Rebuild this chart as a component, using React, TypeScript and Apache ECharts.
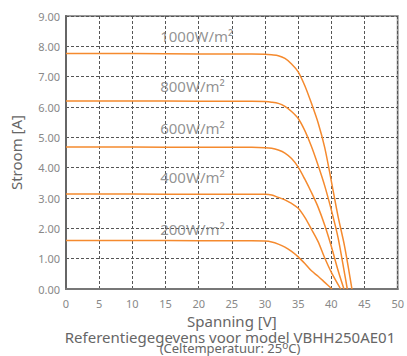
import React, { useEffect, useRef } from "react";
import * as echarts from "echarts";

const irradianceLabels = ["1000W/m²", "800W/m²", "600W/m²", "400W/m²", "200W/m²"];
const labelVoltage = 14.2;
const labelCurrent = [8.33, 6.68, 5.3, 3.69, 1.98];

const curve1000V = [0, 10, 20, 28, 30, 31, 32, 33, 34, 35, 36, 37, 38, 39, 40, 41, 42, 43.1];
const curve1000I = [7.76, 7.76, 7.75, 7.75, 7.74, 7.72, 7.69, 7.6, 7.42, 7.16, 6.7, 6.12, 5.48, 4.66, 3.55, 2.4, 1.4, 0];

const curve800V = [0, 10, 20, 28, 30, 31, 32, 33, 34, 35, 36, 37, 38, 39, 40, 41, 42, 42.4];
const curve800I = [6.2, 6.2, 6.19, 6.19, 6.18, 6.16, 6.12, 6.02, 5.85, 5.62, 5.22, 4.7, 4.08, 3.4, 2.6, 1.7, 0.5, 0];

const curve600V = [0, 10, 20, 28, 30, 31, 32, 33, 34, 35, 36, 37, 38, 39, 40, 41, 41.9];
const curve600I = [4.68, 4.68, 4.67, 4.67, 4.66, 4.64, 4.58, 4.48, 4.3, 4.02, 3.62, 3.18, 2.7, 2.1, 1.4, 0.62, 0];

const curve400V = [0, 10, 20, 28, 30, 31, 32, 33, 34, 35, 36, 37, 38, 39, 40, 41.4];
const curve400I = [3.13, 3.13, 3.12, 3.12, 3.12, 3.1, 3.02, 2.94, 2.82, 2.66, 2.36, 1.97, 1.56, 1.02, 0.55, 0];

const curve200V = [0, 10, 20, 28, 30, 31, 32, 33, 34, 35, 36, 37, 38, 39, 40.1];
const curve200I = [1.6, 1.6, 1.59, 1.59, 1.58, 1.55, 1.48, 1.38, 1.24, 1.06, 0.84, 0.6, 0.42, 0.22, 0];

const xTicks = ["0", "5", "10", "15", "20", "25", "30", "35", "40", "45", "50"];

const FONT = "Noto Sans";
const ORANGE = "#f58a2e";

function pairs(v: number[], i: number[]) {
  return v.map((x, k) => [x, i[k]]);
}

export default function App() {
  const ref = useRef<HTMLDivElement>(null);
  useEffect(() => {
    if (!ref.current) return;
    const chart = echarts.init(ref.current, undefined, { renderer: "svg" });
    const curves = [
      pairs(curve1000V, curve1000I),
      pairs(curve800V, curve800I),
      pairs(curve600V, curve600I),
      pairs(curve400V, curve400I),
      pairs(curve200V, curve200I),
    ];
    const gridLine = { show: true, lineStyle: { color: "#555", type: [3, 2] as any, width: 1 } };
    chart.setOption({
      animation: false,
      textStyle: { fontFamily: FONT },
      title: [
        {
          text: "Referentiegegevens voor model VBHH250AE01",
          left: 230,
          top: 328,
          padding: 0,
          textAlign: "center",
          textStyle: { fontFamily: FONT, fontSize: 15, fontWeight: "normal", color: "#666", lineHeight: 18 },
        },
        {
          text: "(Celtemperatuur: 25{s|o}C)",
          left: 230,
          top: 340,
          padding: 0,
          textAlign: "center",
          textStyle: {
            fontFamily: FONT,
            fontSize: 13,
            fontWeight: "normal",
            color: "#666",
            lineHeight: 15,
            rich: { s: { fontFamily: FONT, fontSize: 10, color: "#666", lineHeight: 8, verticalAlign: "top" } },
          },
        },
      ],
      grid: {
        left: 62,
        right: 7,
        top: 16,
        bottom: 67,
        show: true,
        borderColor: "#999",
        borderWidth: 2,
      },
      xAxis: {
        type: "value",
        min: 0,
        max: 50,
        interval: 5,
        name: "Spanning [V]",
        nameLocation: "middle",
        nameGap: 24,
        nameTextStyle: { fontFamily: FONT, fontSize: 15, color: "#666" },
        axisLine: { lineStyle: { color: "#777", width: 2 } },
        axisTick: { show: false },
        axisLabel: {
          fontFamily: FONT,
          fontSize: 11,
          color: "#888",
          margin: 9,
          formatter: (v: number) => xTicks[Math.round(v / 5)] ?? String(v),
        },
        splitLine: gridLine,
      },
      yAxis: {
        type: "value",
        min: 0,
        max: 9,
        interval: 1,
        name: "Stroom [A]",
        nameLocation: "middle",
        nameGap: 43,
        nameTextStyle: { fontFamily: FONT, fontSize: 15, color: "#666" },
        axisLine: { show: true, lineStyle: { color: "#666", width: 2 } },
        axisTick: { show: false },
        axisLabel: {
          fontFamily: FONT,
          fontSize: 11,
          color: "#888",
          margin: 6,
          formatter: (v: number) => v.toFixed(2),
        },
        splitLine: gridLine,
      },
      series: [
        ...curves.map((d) => ({
          type: "line",
          data: d,
          smooth: 0.3,
          symbol: "none",
          lineStyle: { color: ORANGE, width: 1.5 },
          z: 3,
        })),
        {
          type: "scatter",
          symbolSize: 0,
          data: labelCurrent.map((c) => [labelVoltage, c]),
          label: {
            show: true,
            position: "right",
            distance: 0,
            formatter: (p: any) => irradianceLabels[p.dataIndex],
            fontFamily: FONT,
            fontSize: 15,
            color: "#777",
          },
          z: 4,
          silent: true,
        },
      ],
    });
    return () => chart.dispose();
  }, []);
  return <div ref={ref} style={{ width: 407, height: 356, position: "absolute", left: 0, top: 0 }} />;
}
